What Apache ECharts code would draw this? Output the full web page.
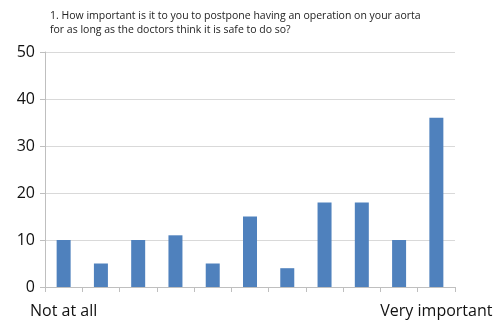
<!DOCTYPE html>
<html>
<head>
<meta charset="utf-8">
<script src="https://cdn.jsdelivr.net/npm/echarts@6/dist/echarts.min.js"></script>
<style>
  html, body { margin: 0; padding: 0; background: #fff; }
  #chart { width: 497px; height: 323px; }
</style>
</head>
<body>
<div id="chart"></div>
<script>
// Answer scale from 1 (not at all) to 11 (very important)
const categories = ['1', '2', '3', '4', '5', '6', '7', '8', '9', '10', '11'];
const counts = [10, 5, 10, 11, 5, 15, 4, 18, 18, 10, 36];
const endLabels = ['Not at all', '', '', '', '', '', '', '', '', '', 'Very important'];
const yTicks = [0, 10, 20, 30, 40, 50];

const titleLines = [
  '1. How important is it to you to postpone having an operation on your aorta',
  'for as long as the doctors think it is safe to do so?'
];

const chart = echarts.init(document.getElementById('chart'));
chart.setOption({
  animation: false,
  title: {
    text: titleLines.join('\n'),
    left: 45,
    top: 4,
    textStyle: {
      fontFamily: 'Open Sans',
      fontSize: 10.5,
      fontWeight: 'normal',
      color: '#222',
      lineHeight: 14
    }
  },
  grid: { left: 45, right: 42, top: 52, bottom: 36, containLabel: false },
  xAxis: {
    type: 'category',
    data: categories,
    boundaryGap: true,
    axisLine: { lineStyle: { color: '#bfbfbf' } },
    axisTick: { show: true, alignWithLabel: false, length: 5, lineStyle: { color: '#bfbfbf' } },
    axisLabel: {
      interval: 0,
      margin: 16,
      fontFamily: 'Open Sans',
      fontSize: 16,
      color: '#111',
      formatter: (v, i) => endLabels[i]
    }
  },
  yAxis: {
    type: 'value',
    min: yTicks[0],
    max: yTicks[yTicks.length - 1],
    interval: 10,
    axisLine: { show: true, lineStyle: { color: '#bfbfbf' } },
    axisTick: { show: true, length: 5, lineStyle: { color: '#bfbfbf' } },
    splitLine: { lineStyle: { color: '#d9d9d9' } },
    axisLabel: {
      margin: 10,
      fontFamily: 'Open Sans',
      fontSize: 16,
      color: '#111'
    }
  },
  series: [{
    type: 'bar',
    data: counts,
    barWidth: 14,
    itemStyle: { color: '#4f81bd' }
  }]
});
</script>
</body>
</html>
